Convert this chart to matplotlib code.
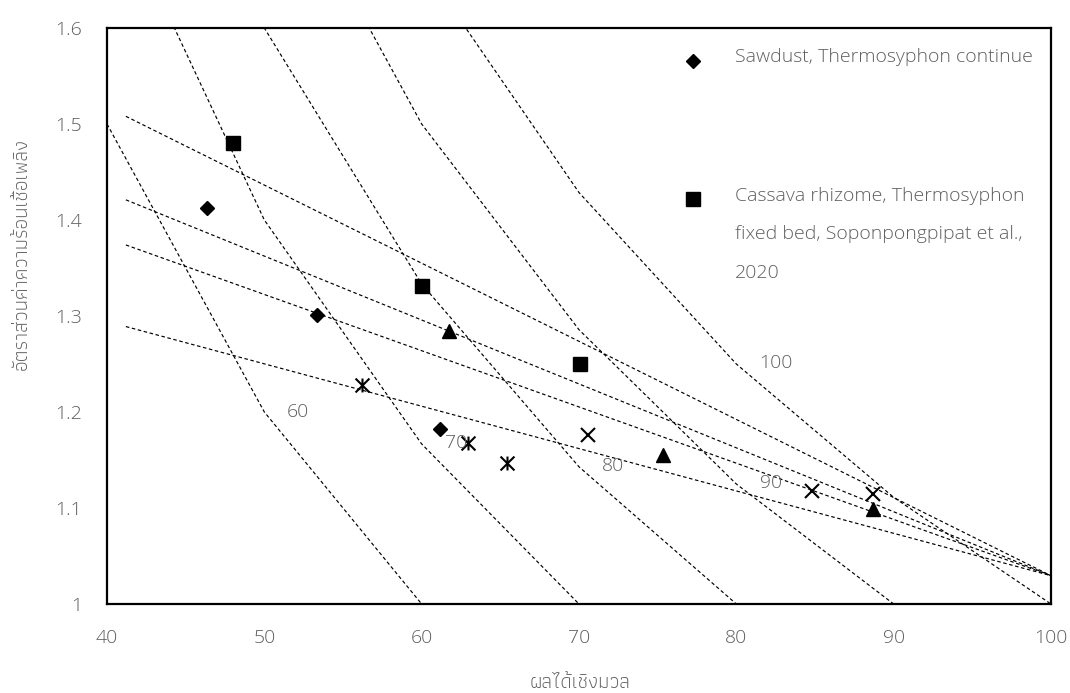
import matplotlib
matplotlib.use("Agg")
import matplotlib.pyplot as plt
from matplotlib import font_manager
from matplotlib.ft2font import FT2Font
from matplotlib.path import Path

# ---- data -------------------------------------------------------------
# energy-yield iso lines: mass yield (%) vs HHV ratio
iso60_x = [40, 50, 60]
iso60_y = [1.5, 1.2, 1.0]
iso70_x = [40, 50, 60, 70]
iso70_y = [1.75, 1.4, 1.1667, 1.0]
iso80_x = [40, 50, 60, 70, 80]
iso80_y = [2.0, 1.6, 1.3333, 1.1429, 1.0]
iso90_x = [50, 60, 70, 80, 90]
iso90_y = [1.8, 1.5, 1.2857, 1.125, 1.0]
iso100_x = [60, 70, 80, 90, 100]
iso100_y = [1.6667, 1.4286, 1.25, 1.1111, 1.0]

iso_labels = ["60", "70", "80", "90", "100"]
iso_label_x = [52.16, 62.19, 72.17, 82.19, 82.53]
iso_label_y = [1.200, 1.168, 1.144, 1.126, 1.251]

# converging trend lines
fan_x = [41.2, 100]
fan_a_y = [1.508, 1.0295]
fan_b_y = [1.421, 1.0295]
fan_c_y = [1.374, 1.0295]
fan_d_y = [1.289, 1.0295]

# measured points
sawdust_x = [46.33, 53.33, 61.19]
sawdust_y = [1.412, 1.301, 1.182]
cassava_x = [48.03, 60.05, 70.07]
cassava_y = [1.480, 1.331, 1.250]
triangle_x = [61.74, 75.33, 88.68]
triangle_y = [1.284, 1.155, 1.099]
star_x = [56.19, 62.97, 65.45]
star_y = [1.228, 1.168, 1.147]
cross_x = [70.55, 84.80, 88.68]
cross_y = [1.176, 1.118, 1.115]

x_ticks = [40, 50, 60, 70, 80, 90, 100]
y_ticks = [1.0, 1.1, 1.2, 1.3, 1.4, 1.5, 1.6]
y_tick_labels = ["1", "1.1", "1.2", "1.3", "1.4", "1.5", "1.6"]

x_title = "ผลได้เชิงมวล"
y_title = "อัตราส่วนค่าความร้อนเชื้อเพลิง"
legend_sawdust = "Sawdust, Thermosyphon continue"
legend_cassava = ["Cassava rhizome, Thermosyphon",
                  "fixed bed, Soponpongpipat et al.,",
                  "2020"]


# ---- fonts ------------------------------------------------------------
def _weight(w):
    if isinstance(w, str):
        return font_manager.weight_dict.get(w, 400)
    return int(w)


def thai_font():
    """Pick an installed upright face with Thai glyphs, as close to a
    light (300) weight as available."""
    best = None
    for fe in font_manager.fontManager.ttflist:
        if fe.style != "normal":
            continue
        try:
            if 0x0E1C not in FT2Font(fe.fname).get_charmap():
                continue
        except Exception:
            continue
        score = abs(_weight(fe.weight) - 300)
        if best is None or score < best[0]:
            best = (score, fe)
    return best[1] if best else None


base_family = ["Open Sans", "DejaVu Sans"]
plt.rcParams["font.family"] = base_family
plt.rcParams["font.weight"] = "light"

GRAY = "#5f5f5f"
FS = 14
TITLE_FS = 15

_th = thai_font()
if _th is not None:
    title_font = font_manager.FontProperties(fname=_th.fname, size=TITLE_FS)
else:
    title_font = font_manager.FontProperties(family=base_family, size=TITLE_FS)

# ---- figure -----------------------------------------------------------
fig = plt.figure(figsize=(10.70, 6.93), dpi=100)
ax = fig.add_axes([107 / 1070, 1 - 604 / 693, 944 / 1070, 576 / 693])

dash = dict(color="black", lw=0.85, linestyle=(0, (3.0, 2.2)))
for xs, ys in [(iso60_x, iso60_y), (iso70_x, iso70_y), (iso80_x, iso80_y),
               (iso90_x, iso90_y), (iso100_x, iso100_y)]:
    ax.plot(xs, ys, **dash)
for ys in [fan_a_y, fan_b_y, fan_c_y, fan_d_y]:
    ax.plot(fan_x, ys, **dash)

for t, x, y in zip(iso_labels, iso_label_x, iso_label_y):
    ax.text(x, y, t, color=GRAY, fontsize=FS, ha="center", va="center")

star_path = Path([(-1, -1), (1, 1), (-1, 1), (1, -1), (0, -1), (0, 1)],
                 [Path.MOVETO, Path.LINETO, Path.MOVETO, Path.LINETO,
                  Path.MOVETO, Path.LINETO])

ax.plot(sawdust_x, sawdust_y, ls="none", marker="D", ms=7.2, color="black")
ax.plot(cassava_x, cassava_y, ls="none", marker="s", ms=10.5, color="black")
ax.plot(triangle_x, triangle_y, ls="none", marker="^", ms=10.5, color="black")
ax.plot(star_x, star_y, ls="none", marker=star_path, ms=10, mew=1.5,
        mfc="none", mec="black")
ax.plot(cross_x, cross_y, ls="none", marker="x", ms=9.5, mew=1.5, color="black")

ax.set_xlim(40, 100)
ax.set_ylim(1.0, 1.6)
ax.set_xticks(x_ticks)
ax.set_yticks(y_ticks)
ax.set_yticklabels(y_tick_labels)
ax.tick_params(length=0, labelsize=FS, labelcolor=GRAY)
ax.tick_params(axis="x", pad=18)
ax.tick_params(axis="y", pad=18)
for s in ax.spines.values():
    s.set_linewidth(1.6)
    s.set_color("black")

ax.set_xlabel(x_title, fontproperties=title_font, color=GRAY)
ax.xaxis.set_label_coords((580 - 107) / 944, -(683 - 604) / 576,
                          transform=ax.transAxes)
ax.xaxis.label.set_va("center")
ax.set_ylabel(y_title, fontproperties=title_font, color=GRAY)
ax.yaxis.set_label_coords(-(107 - 22) / 944, (604 - 254) / 576,
                          transform=ax.transAxes)
ax.yaxis.label.set_va("center")

# legend
mx = (693 - 107) / 944
tx = (735 - 107) / 944
ax.plot([mx], [(604 - 60.7) / 576], transform=ax.transAxes, marker="D",
        ms=7.2, color="black", clip_on=False)
ax.text(tx, (604 - 57.3) / 576, legend_sawdust, transform=ax.transAxes,
        color=GRAY, fontsize=FS, va="center", ha="left")
ax.plot([mx], [(604 - 199) / 576], transform=ax.transAxes, marker="s",
        ms=10.5, color="black", clip_on=False)
for line, py in zip(legend_cassava, [195.7, 234.3, 273.3]):
    ax.text(tx, (604 - py) / 576, line, transform=ax.transAxes,
            color=GRAY, fontsize=FS, va="center", ha="left")

fig.savefig("out.png", dpi=100)
